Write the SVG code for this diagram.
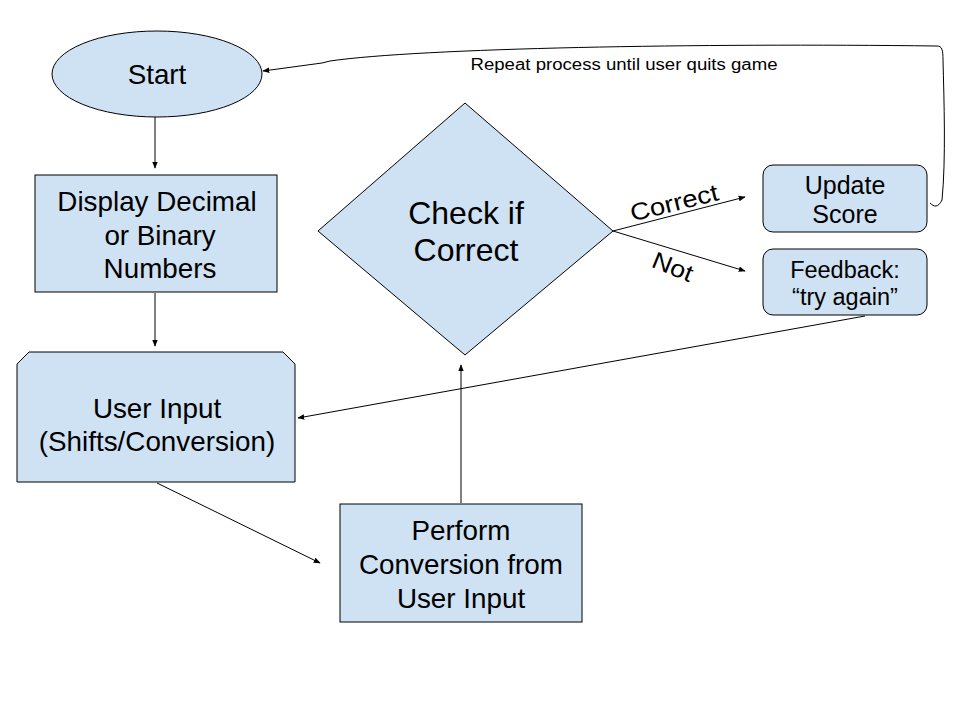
<svg xmlns="http://www.w3.org/2000/svg" width="960" height="720" viewBox="0 0 960 720">
<defs>
<style>
.n{fill:#cfe2f3;stroke:#000;stroke-width:1}
.t{font-family:"Liberation Sans",Arial,sans-serif;fill:#000;text-anchor:middle}
.b{font-size:27.8px}
.c{fill:none;stroke:#000;stroke-width:1}
</style>
<marker id="ah" viewBox="0 0 10 10" refX="9" refY="5" markerWidth="7" markerHeight="7" markerUnits="userSpaceOnUse" orient="auto">
<path d="M0,1 L10,5 L0,9 z" fill="#000"/>
</marker>
</defs>
<rect width="960" height="720" fill="#fff"/>
<g id="connectors">
<line class="c" x1="155" y1="117" x2="155" y2="168" marker-end="url(#ah)"/>
<line class="c" x1="155" y1="293" x2="155" y2="346" marker-end="url(#ah)"/>
<line class="c" x1="865" y1="316" x2="298" y2="418" marker-end="url(#ah)"/>
<line class="c" x1="157" y1="483" x2="320" y2="563" marker-end="url(#ah)"/>
<line class="c" x1="461" y1="503" x2="461" y2="365" marker-end="url(#ah)"/>
<line class="c" x1="613" y1="231" x2="745" y2="197" marker-end="url(#ah)"/>
<line class="c" x1="613" y1="231" x2="745" y2="271" marker-end="url(#ah)"/>
<path class="c" d="M930,203 C934,207 938,208 942,200 C946,160 944,100 943,60 C943,50 942,46 937,46 C700,43 420,48 330,61 L322,63 L263,71" marker-end="url(#ah)"/>
<text class="t" x="624" y="70" font-size="16" textLength="307" lengthAdjust="spacingAndGlyphs">Repeat process until user quits game</text>
<text class="t" x="674" y="211" font-size="24" textLength="90" lengthAdjust="spacingAndGlyphs" transform="rotate(-14 674 202)">Correct</text>
<text class="t" x="673" y="275" font-size="24" textLength="42" lengthAdjust="spacingAndGlyphs" transform="rotate(22 673 266)">Not</text>
</g>
<g id="start">
<ellipse class="n" cx="157" cy="74" rx="105" ry="43"/>
<text class="t b" x="157" y="84">Start</text>
</g>
<g id="display">
<rect class="n" x="35" y="175" width="242" height="117"/>
<text class="t b"><tspan x="157" y="211">Display Decimal</tspan><tspan x="160" y="245">or Binary</tspan><tspan x="160" y="278">Numbers</tspan></text>
</g>
<g id="userinput">
<path class="n" d="M29,352 L283,352 L295,364 L295,482 L17,482 L17,364 Z"/>
<text class="t b"><tspan x="157" y="418">User Input</tspan><tspan x="157" y="451">(Shifts/Conversion)</tspan></text>
</g>
<g id="check">
<path class="n" d="M465,103 L613,231 L465,355 L318,231 Z"/>
<text class="t" font-size="32"><tspan x="466" y="224">Check if</tspan><tspan x="466" y="261">Correct</tspan></text>
</g>
<g id="update">
<rect class="n" x="763" y="165" width="164" height="67" rx="10"/>
<text class="t" font-size="25"><tspan x="845" y="194">Update</tspan><tspan x="845" y="223">Score</tspan></text>
</g>
<g id="feedback">
<rect class="n" x="763" y="249" width="164" height="66" rx="10"/>
<text class="t" font-size="23.5"><tspan x="845" y="278">Feedback:</tspan><tspan x="845" y="305">“try again”</tspan></text>
</g>
<g id="perform">
<rect class="n" x="340" y="504" width="242" height="118"/>
<text class="t b"><tspan x="461" y="540">Perform</tspan><tspan x="461" y="574">Conversion from</tspan><tspan x="461" y="608">User Input</tspan></text>
</g>
</svg>
